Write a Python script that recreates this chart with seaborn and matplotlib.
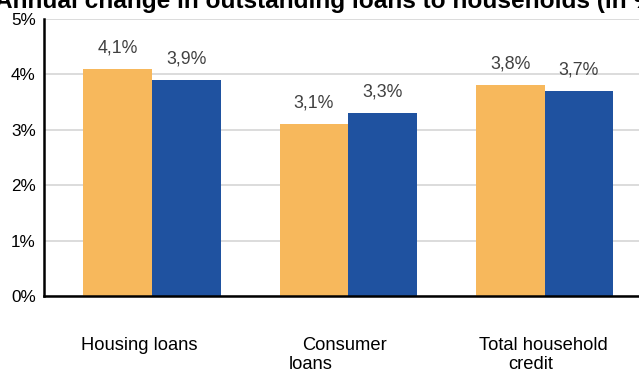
import matplotlib
matplotlib.use("Agg")
import matplotlib.pyplot as plt
import matplotlib.transforms as mtransforms
import pandas as pd
import seaborn as sns

# Annual change in outstanding loans to households, in percent
categories = ["Housing loans", "Consumer loans", "Total household credit"]
periods = ["earlier", "latest"]
earlier_values = [4.1, 3.1, 3.8]
latest_values = [3.9, 3.3, 3.7]
y_ticks = [0, 1, 2, 3, 4, 5]

# Category label lines, as they wrap under each group
label_lines = [["Housing loans"], ["Consumer", "loans"], ["Total household", "credit"]]
# Horizontal nudge of each line (pixels)
label_nudges = [[-13], [-4, -38], [-1, -14]]

title = "Annual change in outstanding loans to households (in %)"

colors = ["#F7B85C", "#1F52A0"]

df = pd.DataFrame({
    "category": categories * 2,
    "period": [periods[0]] * 3 + [periods[1]] * 3,
    "value": earlier_values + latest_values,
})

sns.set_theme(style="white")
plt.rcParams["font.family"] = ["Liberation Sans", "DejaVu Sans"]

DPI = 100
fig = plt.figure(figsize=(6.39, 3.72), dpi=DPI)
ax = fig.add_axes([0.0689, 0.2043, 0.9523, 0.7446])

sns.barplot(
    data=df, x="category", y="value", hue="period",
    order=categories, hue_order=periods, palette=colors,
    width=0.7, gap=0, saturation=1, legend=False, linewidth=0, ax=ax,
)

# Value labels with decimal comma
for container, vals in zip(ax.containers, [earlier_values, latest_values]):
    ax.bar_label(
        container,
        labels=[f"{v:.1f}%".replace(".", ",") for v in vals],
        padding=9, color="#404040", fontsize=12.8,
    )

ax.set_xlim(-0.55, 2.55)
ax.set_ylim(0, 5)
ax.set_yticks(y_ticks)
ax.set_yticklabels([f"{v}%" for v in y_ticks])
ax.tick_params(axis="y", length=0, pad=6, labelsize=12.3, labelcolor="#000000")
ax.set_xticks(range(len(categories)))
ax.set_xticklabels([""] * len(categories))
ax.tick_params(axis="x", length=0)
ax.set_xlabel("")
ax.set_ylabel("")

ax.yaxis.grid(True, color="#d9d9d9", linewidth=1.3)
ax.xaxis.grid(False)
ax.set_axisbelow(True)

for side in ["top", "right"]:
    ax.spines[side].set_visible(False)
for side in ["left", "bottom"]:
    ax.spines[side].set_color("black")
    ax.spines[side].set_linewidth(1.8)

# Category labels under the axis
base = ax.get_xaxis_transform()
for i, (lines, nudges) in enumerate(zip(label_lines, label_nudges)):
    for j, (line, dx) in enumerate(zip(lines, nudges)):
        tr = mtransforms.offset_copy(base, fig=fig, x=dx, y=-54 - 19 * j, units="dots")
        ax.text(i, 0, line, transform=tr, ha="center", va="baseline",
                fontsize=13.2, color="#000000")

fig.text(-5 / 639, 1 - 8 / 372, title, ha="left", va="baseline",
         fontsize=17.6, fontweight="bold", color="#000000")

fig.savefig("out.png", dpi=DPI, facecolor="white")
